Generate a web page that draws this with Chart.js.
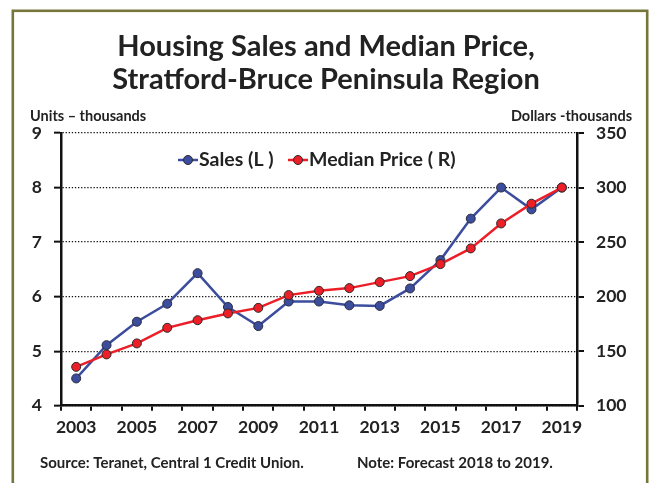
<!DOCTYPE html>
<html>
<head>
<meta charset="utf-8">
<title>Housing Sales and Median Price</title>
<script src="https://cdn.jsdelivr.net/npm/chart.js@4/dist/chart.umd.min.js"></script>
<style>
  html, body { margin: 0; padding: 0; background: #fff; }
  canvas { display: block; }
</style>
</head>
<body>
<canvas id="chart" width="652" height="483"></canvas>
<script>
// data
const years = ['2003', '2004', '2005', '2006', '2007', '2008', '2009', '2010', '2011',
  '2012', '2013', '2014', '2015', '2016', '2017', '2018', '2019'];
// housing sales, thousands of units (left axis)
const sales = [4.50, 5.11, 5.54, 5.87, 6.43, 5.81, 5.46, 5.91, 5.91,
  5.84, 5.83, 6.15, 6.67, 7.43, 8.00, 7.60, 8.00];
// median price, thousands of dollars (right axis)
const medianPrice = [135.6, 147, 157.1, 171.4, 178.4, 184.6, 189.7, 201.4, 205.3,
  207.8, 213.3, 218.8, 229.8, 244.2, 267.1, 285.2, 300];

const titleLines = ['Housing Sales and Median Price,', 'Stratford-Bruce Peninsula Region'];
const leftUnit = 'Units \u2013 thousands';
const rightUnit = 'Dollars -thousands';
const sourceNote = 'Source: Teranet, Central 1 Credit Union.';
const forecastNote = 'Note: Forecast 2018 to 2019.';

const FONT = 'Lato, "Open Sans", sans-serif';
const TEXT = '#222';
const BLUE = '#3c4d9e';
const RED = '#ec1f28';

// frame, titles, unit labels, notes and the legend are drawn here
const decorPlugin = {
  id: 'decor',
  beforeDraw(chart) {
    const ctx = chart.ctx;
    ctx.save();
    ctx.strokeStyle = '#77763a';
    ctx.lineWidth = 2.6;
    ctx.strokeRect(12.8, 10.8, 634.4, 600);
    ctx.restore();
  },
  afterDraw(chart) {
    const ctx = chart.ctx;
    ctx.save();
    ctx.fillStyle = TEXT;
    ctx.textBaseline = 'middle';

    // title
    ctx.textAlign = 'center';
    ctx.font = 'bold 29px ' + FONT;
    ctx.fillText(titleLines[0], 326, 47);
    ctx.fillText(titleLines[1], 326, 80);

    // axis units
    ctx.font = 'bold 14.5px ' + FONT;
    ctx.textAlign = 'left';
    ctx.fillText(leftUnit, 30, 116);
    ctx.textAlign = 'right';
    ctx.fillText(rightUnit, 632, 116);

    // notes
    ctx.font = 'bold 15px ' + FONT;
    ctx.textAlign = 'left';
    ctx.fillText(sourceNote, 40, 463);
    ctx.fillText(forecastNote, 357, 463);

    // legend: line + marker, then label
    const items = [
      { label: 'Sales (L )', color: BLUE, x: 178 },
      { label: 'Median Price ( R)', color: RED, x: 288 }
    ];
    const ly = 160;
    ctx.font = 'bold 19.5px ' + FONT;
    items.forEach(it => {
      ctx.strokeStyle = it.color;
      ctx.lineWidth = 2.5;
      ctx.beginPath();
      ctx.moveTo(it.x, ly);
      ctx.lineTo(it.x + 20, ly);
      ctx.stroke();
      ctx.beginPath();
      ctx.arc(it.x + 10, ly, 4.5, 0, Math.PI * 2);
      ctx.fillStyle = it.color;
      ctx.fill();
      ctx.lineWidth = 1;
      ctx.strokeStyle = '#2a2a2a';
      ctx.stroke();
      ctx.fillStyle = TEXT;
      ctx.textAlign = 'left';
      ctx.fillText(it.label, it.x + 21, ly);
    });
    ctx.restore();
  }
};

const tickFont = { family: FONT, size: 17.5, weight: 'bold' };

new Chart(document.getElementById('chart'), {
  type: 'line',
  data: {
    labels: years,
    datasets: [
      {
        label: 'Sales (L )',
        data: sales,
        yAxisID: 'y',
        order: 2,
        borderColor: BLUE,
        borderWidth: 2.5,
        pointBackgroundColor: BLUE,
        pointBorderColor: '#2a2a3a',
        pointBorderWidth: 1,
        pointRadius: 4.5,
        tension: 0
      },
      {
        label: 'Median Price ( R)',
        data: medianPrice,
        yAxisID: 'y1',
        order: 1,
        borderColor: RED,
        borderWidth: 2.5,
        pointBackgroundColor: RED,
        pointBorderColor: '#2a2a2a',
        pointBorderWidth: 1,
        pointRadius: 4.5,
        tension: 0
      }
    ]
  },
  options: {
    responsive: false,
    animation: false,
    events: [],
    layout: { padding: { top: 133, left: 0, right: 0, bottom: 0 } },
    plugins: {
      legend: { display: false },
      title: { display: false },
      tooltip: { enabled: false }
    },
    scales: {
      x: {
        type: 'category',
        offset: true,
        grid: {
          offset: true,
          drawOnChartArea: false,
          color: '#111',
          lineWidth: 2,
          tickLength: 5
        },
        border: { color: '#111', width: 2.5 },
        ticks: {
          autoSkip: false,
          maxRotation: 0,
          padding: 6,
          color: TEXT,
          font: tickFont,
          callback: (v, i) => (i % 2 === 0 ? years[i] : '')
        },
        afterFit: s => { s.height = 483 - 405.7; }
      },
      y: {
        position: 'left',
        min: 4,
        max: 9,
        grid: {
          color: '#111',
          lineWidth: 1.3,
          tickLength: 7,
          tickBorderDash: [],
          tickColor: '#111',
          tickWidth: 2
        },
        // dotted grid lines (v4 keeps the dash under border)
        border: { color: '#111', width: 2.5, dash: [1.3, 1.8] },
        ticks: { stepSize: 1, padding: 12, color: TEXT, font: tickFont },
        afterFit: s => { s.width = 61; }
      },
      y1: {
        position: 'right',
        min: 100,
        max: 350,
        grid: {
          drawOnChartArea: false,
          color: '#111',
          lineWidth: 2,
          tickLength: 7
        },
        border: { color: '#111', width: 2.5 },
        ticks: { stepSize: 50, padding: 12, color: TEXT, font: tickFont },
        afterFit: s => { s.width = 652 - 577; }
      }
    }
  },
  plugins: [decorPlugin]
});
</script>
</body>
</html>
